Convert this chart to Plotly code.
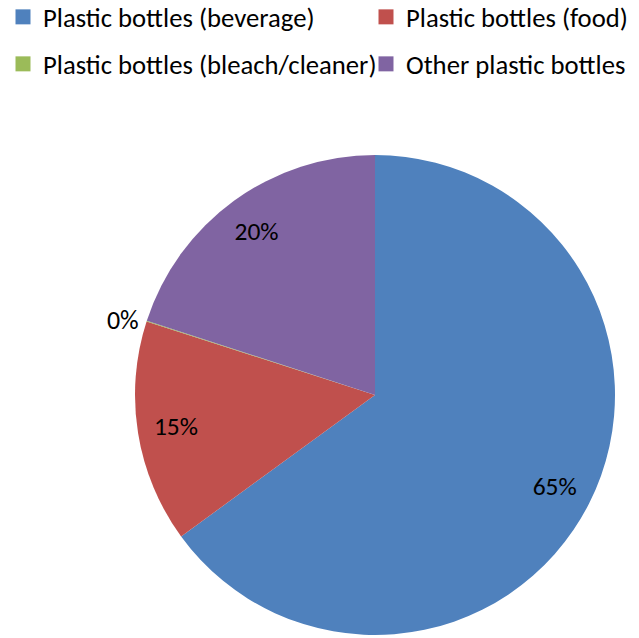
import plotly.graph_objects as go

labels = ["Plastic bottles (beverage)", "Plastic bottles (food)",
          "Plastic bottles (bleach/cleaner)", "Other plastic bottles"]
values = [65, 15, 0.05, 20]
colors = ["#4F81BD", "#C0504D", "#9BBB59", "#8064A2"]
text_pos = ["inside", "inside", "outside", "inside"]
outside_only = ["", "", "%{percent:.0%}", ""]
inside_only = ["%{percent:.0%}", "%{percent:.0%}", "", "%{percent:.0%}"]

FONT = "Carlito, Calibri, 'Liberation Sans Narrow', 'Arial Narrow', sans-serif"
DOMAIN = dict(x=[135/639, 615/639], y=[3/638, 483/638])

fig = go.Figure()
# main coloured pie (carries the outside 0% label)
fig.add_trace(go.Pie(
    labels=labels, values=values, sort=False, direction="clockwise", rotation=0,
    marker=dict(colors=colors, line=dict(width=0)),
    textinfo="none", texttemplate=outside_only, textposition=text_pos,
    insidetextorientation="horizontal",
    textfont=dict(family=FONT, size=26, color="black"),
    domain=DOMAIN, showlegend=False,
))
# transparent ring used only to place the inside percentage labels further out
fig.add_trace(go.Pie(
    labels=labels, values=values, sort=False, direction="clockwise", rotation=0,
    hole=0.68,
    marker=dict(colors=["rgba(0,0,0,0)"] * 4, line=dict(width=0)),
    textinfo="none", texttemplate=inside_only, textposition=text_pos,
    insidetextorientation="horizontal",
    textfont=dict(family=FONT, size=25.5, color="black"),
    domain=DOMAIN, showlegend=False, hoverinfo="skip",
))

# legend entries, one legend box per cell of the 2x2 grid
legend_ids = ["legend", "legend2", "legend3", "legend4"]
for lab, col, lid in zip(labels, colors, legend_ids):
    fig.add_trace(go.Scatter(
        x=[None], y=[None], mode="markers", name=lab,
        marker=dict(symbol="square", size=15, color=col),
        legend=lid,
    ))

legend_common = dict(orientation="h", font=dict(family=FONT, size=26.7, color="black"),
                     itemwidth=30, xanchor="left", yanchor="middle",
                     bgcolor="rgba(0,0,0,0)", borderwidth=0)
col_x = [3/639, 366/639]
row_y = [1 - 17/638, 1 - 64/638]
fig.update_layout(
    width=639, height=638, margin=dict(l=0, r=0, t=0, b=0, autoexpand=False),
    paper_bgcolor="white", plot_bgcolor="white",
    xaxis=dict(visible=False), yaxis=dict(visible=False),
    legend=dict(x=col_x[0], y=row_y[0], **legend_common),
    legend2=dict(x=col_x[1], y=row_y[0], **legend_common),
    legend3=dict(x=col_x[0], y=row_y[1], **legend_common),
    legend4=dict(x=col_x[1], y=row_y[1], **legend_common),
)
fig.write_html("out.html")
